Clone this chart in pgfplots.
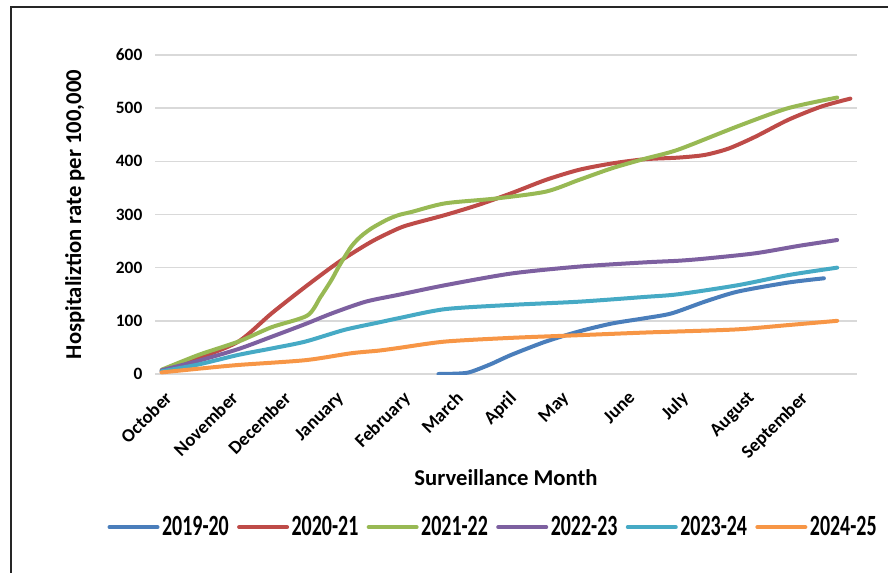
\documentclass[border=0pt]{standalone}
\usepackage{fontspec}
\setmainfont{Carlito}
\newfontfamily\legfont[FakeStretch=0.68]{Carlito}
\usepackage{pgfplots}
\pgfplotsset{compat=1.18}

\definecolor{c1920}{HTML}{4A7EBB}
\definecolor{c2021}{HTML}{BE4B48}
\definecolor{c2122}{HTML}{98B954}
\definecolor{c2223}{HTML}{7D60A0}
\definecolor{c2324}{HTML}{46AAC5}
\definecolor{c2425}{HTML}{F79646}

\begin{document}
\begin{tikzpicture}
\useasboundingbox (0,0) rectangle (666pt,429pt);
% chart frame
\draw[black!85, line width=1.3pt] (8.25pt,-5pt) -- (8.25pt,423.75pt) -- (670pt,423.75pt);
\begin{axis}[
  at={(116.25pt,148.5pt)}, anchor=south west,
  scale only axis, width=526.5pt, height=239.25pt,
  xmin=-0.5, xmax=52.5, ymin=0, ymax=600,
  ytick={0,100,...,600},
  xtick={0,5,9,13,18,22,26,30,35,39,44,48},
  xticklabels={October,November,December,January,February,March,April,May,June,July,August,September},
  axis line style={draw=none}, major tick length=0pt,
  ymajorgrids, major grid style={draw=black!15, line width=1.1pt},
  /pgf/number format/assume math mode=true,
  yticklabel style={font=\bfseries\fontsize{13}{15}\selectfont, xshift=-6pt},
  xticklabel style={font=\bfseries\fontsize{14}{16}\selectfont, inner sep=0pt, yshift=-12pt, xshift=1.5pt, rotate=45, anchor=north east},
  xlabel={Surveillance Month},
  ylabel={Hospitaliztion rate per 100,000},
  label style={font=\bfseries\fontsize{17}{20}\selectfont},
  xlabel style={at={(axis description cs:0.5,-0.326)}, anchor=center},
  ylabel style={at={(axis description cs:-0.114,0.5)}, anchor=center},
  no markers,
  every axis plot/.append style={line width=3pt, line cap=round, smooth, tension=0.45},
  legend columns=6,
  legend style={at={(axis description cs:0.482,-0.48)}, anchor=center, draw=none, fill=none,
    font=\legfont\bfseries\fontsize{22}{24}\selectfont, nodes={inner sep=1.9pt},
    /tikz/every even column/.append style={column sep=4.3pt}},
  legend image code/.code={\draw[#1, line width=3pt, line cap=round] (0pt,0pt) -- (36pt,0pt);},
]
% 2019-20
\addplot[c1920] coordinates {(20.9,0) (22.0,0.5) (23.2,3) (24.8,18) (26.4,36) (29.0,61) (31.5,80) (34.0,95) (36.5,105) (38.5,114) (41.0,136) (43.5,155) (47.3,172) (50,180)};
% 2020-21
\addplot[c2021] coordinates {(0,5) (2.8,30) (5.8,61) (8.3,114) (10.85,164) (13.4,211) (15.85,249) (17.9,274) (19,283) (21.4,299) (23.9,318) (26.4,340) (29.0,365) (31.5,384) (34.0,396) (36.5,404) (39.0,407) (41.0,412) (42.8,424) (44.8,446) (47.3,478) (49.8,503) (52,518)};
% 2021-22
\addplot[c2122] coordinates {(0,8) (2.8,36) (5.8,61) (8.3,88) (11.0,110) (12.0,145) (12.85,178) (13.4,203) (14.3,239) (15.0,258) (15.85,274) (17.0,290) (17.9,299) (18.9,305) (21.4,321) (25.2,330) (29.0,343) (31.5,365) (34.0,387) (36.5,405) (39.0,422) (43.5,466) (47.3,500) (51,520)};
% 2022-23
\addplot[c2223] coordinates {(0,7) (2.8,25) (5.8,47) (8.3,70) (10.85,94) (12.85,114) (15.4,136) (17.9,149) (21.4,167) (26.4,189) (31.5,202) (36.5,210) (39.0,213) (41.0,217) (44.8,227) (48.1,241) (51,252)};
% 2023-24
\addplot[c2324] coordinates {(0,5) (2.8,18) (5.8,36) (8.3,48) (10.85,61) (13.8,83) (16.4,97) (17.9,105) (21.4,122) (26.4,130) (31.5,136) (36.5,145) (39.0,150) (43.5,167) (47.3,186) (51,200)};
% 2024-25
\addplot[c2425] coordinates {(0,3) (2.8,10) (5.8,17) (10.85,26) (14.3,39) (16.4,44) (17.9,49) (21.4,61) (26.4,68) (31.5,73) (36.5,78) (39.0,80) (43.5,84) (47.3,92) (51,100)};
\legend{2019-20,2020-21,2021-22,2022-23,2023-24,2024-25}
\end{axis}
\end{tikzpicture}
\end{document}
